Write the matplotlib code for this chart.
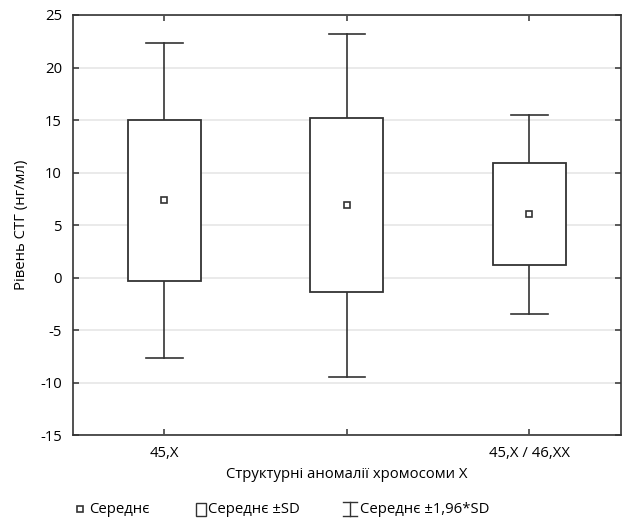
import matplotlib
matplotlib.use('Agg')
from matplotlib import pyplot as plt
from matplotlib.patches import Rectangle
from matplotlib.lines import Line2D

plt.rcParams['font.family'] = ['Open Sans', 'DejaVu Sans']
plt.rcParams['axes.unicode_minus'] = False

# Data
groups = ['45,X', '', '45,X / 46,XX']
means = [7.4, 6.9, 6.05]
sd_low = [-0.33, -1.4, 1.22]
sd_high = [15.0, 15.22, 10.87]
ci_low = [-7.67, -9.44, -3.44]
ci_high = [22.36, 23.22, 15.5]

edge = '#333333'
fs = 10.7

fig = plt.figure(figsize=(6.22, 5.19), dpi=100)
ax = fig.add_axes([0.1174, 0.1618, 0.8806, 0.8093])

box_w = 0.4
cap_w = 0.2
for i in range(len(groups)):
    # whiskers
    ax.plot([i, i], [sd_high[i], ci_high[i]], color=edge, lw=1.2, zorder=3)
    ax.plot([i, i], [ci_low[i], sd_low[i]], color=edge, lw=1.2, zorder=3)
    ax.plot([i - cap_w / 2, i + cap_w / 2], [ci_high[i]] * 2, color=edge, lw=1.2, zorder=3)
    ax.plot([i - cap_w / 2, i + cap_w / 2], [ci_low[i]] * 2, color=edge, lw=1.2, zorder=3)
    # box
    ax.add_patch(Rectangle((i - box_w / 2, sd_low[i]), box_w, sd_high[i] - sd_low[i],
                           facecolor='white', edgecolor=edge, lw=1.3, zorder=4))
    # mean
    ax.plot(i, means[i], marker='s', ms=5, mfc='white', mec=edge, mew=1.2, zorder=5)

ax.set_xlim(-0.5, 2.5)
ax.set_ylim(-15, 25)
ax.set_yticks(range(-15, 26, 5))
ax.set_xticks(range(len(groups)))
ax.set_xticklabels(groups)
ax.yaxis.grid(True, color='#e6e6e6', lw=1.2)
ax.set_axisbelow(True)
for s in ax.spines.values():
    s.set_color(edge)
    s.set_linewidth(1.2)
ax.tick_params(direction='in', length=4, width=1.1, color=edge,
               top=True, right=True, labelsize=fs, pad=8)
ax.set_ylabel('Рівень СТГ (нг/мл)', fontsize=fs, labelpad=8)
ax.set_xlabel('Структурні аномалії хромосоми X', fontsize=fs, labelpad=4)

# legend row at the bottom
ly = 0.018
fig.add_artist(Line2D([79.5 / 622], [ly + 0.002], marker='s', ms=4.5, mfc='white',
                      mec=edge, mew=1.2, transform=fig.transFigure))
fig.text(89 / 622, ly, 'Середнє', fontsize=fs, va='center')
fig.add_artist(Rectangle((196 / 622, ly - 0.012), 10 / 622, 0.024, facecolor='white',
                         edgecolor=edge, lw=1.0, transform=fig.transFigure))
fig.text(208 / 622, ly, 'Середнє ±SD', fontsize=fs, va='center')
ex = 350 / 622
fig.add_artist(Line2D([ex, ex], [ly - 0.012, ly + 0.014], color=edge, lw=1.0,
                      transform=fig.transFigure))
fig.add_artist(Line2D([ex - 0.011, ex + 0.011], [ly + 0.014] * 2, color=edge, lw=1.0,
                      transform=fig.transFigure))
fig.add_artist(Line2D([ex - 0.011, ex + 0.011], [ly - 0.012] * 2, color=edge, lw=1.0,
                      transform=fig.transFigure))
fig.text(360 / 622, ly, 'Середнє ±1,96*SD', fontsize=fs, va='center')

fig.savefig('out.png', dpi=100)
